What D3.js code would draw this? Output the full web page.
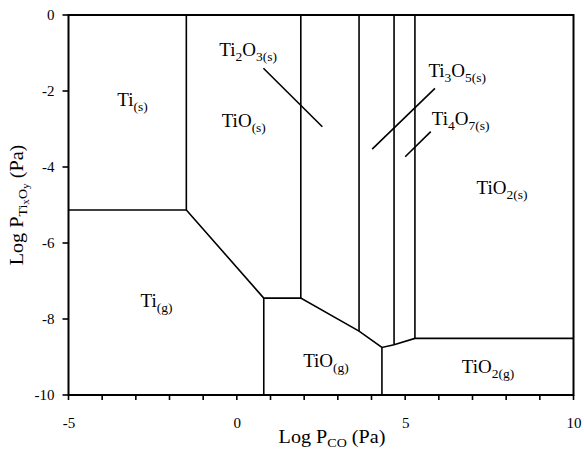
<!DOCTYPE html>
<html>
<head>
<meta charset="utf-8">
<script src="https://cdn.jsdelivr.net/npm/d3@7"></script>
<style>
  html, body { margin: 0; padding: 0; background: #fff; }
  svg { display: block; }
  text { font-family: "Liberation Serif", "Times New Roman", serif; fill: #000; }
</style>
</head>
<body>
<svg id="chart" width="584" height="452"></svg>
<script>
// ---- data (log10 P_CO [Pa], log10 P_TixOy [Pa]) ----
const xDomain = [-5, 10];
const yDomain = [-10, 0];
const xMajorTicks = [-5, 0, 5, 10];
const xMinorTicks = [-5, -4, -3, -2, -1, 0, 1, 2, 3, 4, 5, 6, 7, 8, 9, 10];
const yTicks = [0, -2, -4, -6, -8, -10];

// main lower phase boundary (solid/gas and gas/gas)
const tiSolidBottom = [[-5, -5.13], [-1.5, -5.13]];
const lowerBoundary = [[-1.5, 0], [-1.5, -5.13], [0.8, -7.45], [1.9, -7.45], [3.63, -8.32],
                       [4.31, -8.75], [4.67, -8.68], [5.29, -8.51], [10, -8.51]];
// vertical solid/solid boundaries: [x, yTop, yBottom]
const verticalBounds = [[0.8, -7.45, -10], [1.9, 0, -7.45], [3.63, 0, -8.32],
                        [4.31, -8.75, -10], [4.67, 0, -8.68], [5.29, 0, -8.51]];
// leader lines from labels to narrow fields
const leaders = [[[0.79, -1.40], [2.54, -2.94]],
                 [[5.885, -1.93], [4.02, -3.53]],
                 [[5.76, -3.07], [5.0, -3.73]]];
// region labels: anchor point and [text, isSubscript] parts
const labelPos = [[-3.55, -2.39], [-2.86, -7.68], [-0.52, -1.09], [-0.45, -2.94],
                  [5.69, -1.64], [5.79, -2.89], [7.12, -4.70], [1.97, -9.26], [6.68, -9.43]];
const labelParts = [
  [["Ti", 0], ["(s)", 1]],
  [["Ti", 0], ["(g)", 1]],
  [["Ti", 0], ["2", 1], ["O", 0], ["3(s)", 1]],
  [["TiO", 0], ["(s)", 1]],
  [["Ti", 0], ["3", 1], ["O", 0], ["5(s)", 1]],
  [["Ti", 0], ["4", 1], ["O", 0], ["7(s)", 1]],
  [["TiO", 0], ["2(s)", 1]],
  [["TiO", 0], ["(g)", 1]],
  [["TiO", 0], ["2(g)", 1]]
];

// ---- layout ----
const svg = d3.select("#chart");
const m = {left: 68.5, right: 573.5, top: 15, bottom: 395};
const x = d3.scaleLinear().domain(xDomain).range([m.left, m.right]);
const y = d3.scaleLinear().domain(yDomain).range([m.bottom, m.top]);
const line = d3.line().x(d => x(d[0])).y(d => y(d[1]));

const g = svg.append("g");

// phase boundaries
const lineStyle = sel => sel.attr("fill", "none").attr("stroke", "#000").attr("stroke-width", 1.6);
g.append("path").datum(tiSolidBottom).attr("d", line).call(lineStyle);
g.append("path").datum(lowerBoundary).attr("d", line).call(lineStyle).attr("stroke-linejoin", "miter");
g.selectAll("line.v").data(verticalBounds).join("line").attr("class", "v")
  .attr("x1", d => x(d[0])).attr("x2", d => x(d[0]))
  .attr("y1", d => y(d[1])).attr("y2", d => y(d[2])).call(lineStyle);
g.selectAll("path.leader").data(leaders).join("path").attr("class", "leader")
  .attr("d", line).call(lineStyle);

// frame
svg.append("rect").attr("x", m.left).attr("y", m.top)
  .attr("width", m.right - m.left).attr("height", m.bottom - m.top)
  .attr("fill", "none").attr("stroke", "#000").attr("stroke-width", 2);

// tick marks (drawn from the scales)
svg.append("g").selectAll("line").data(xMinorTicks).join("line")
  .attr("x1", d => x(d)).attr("x2", d => x(d))
  .attr("y1", m.bottom).attr("y2", m.bottom + 5)
  .attr("stroke", "#000").attr("stroke-width", 1.6);
svg.append("g").selectAll("line").data(yTicks).join("line")
  .attr("x1", m.left - 6).attr("x2", m.left)
  .attr("y1", d => y(d)).attr("y2", d => y(d))
  .attr("stroke", "#000").attr("stroke-width", 1.6);

// tick labels via d3 axes
const xAxis = svg.append("g").attr("transform", `translate(0,${m.bottom})`)
  .call(d3.axisBottom(x).tickValues(xMajorTicks).tickSize(5).tickPadding(17).tickFormat(d3.format("d")));
const yAxis = svg.append("g").attr("transform", `translate(${m.left},0)`)
  .call(d3.axisLeft(y).tickValues(yTicks).tickSize(6).tickPadding(8).tickFormat(d3.format("d")));
[xAxis, yAxis].forEach(a => {
  a.select(".domain").remove();
  a.selectAll(".tick line").remove();
  a.selectAll("text").style("font-family", "'Liberation Serif', serif").style("font-size", "15px").attr("fill", "#000");
});
yAxis.selectAll("text").text(d => d === 0 ? "0" : "-" + Math.abs(d));
xAxis.selectAll("text").text(d => d < 0 ? "-" + Math.abs(d) : d);

// region labels
labelParts.forEach((parts, i) => {
  const t = svg.append("text")
    .attr("x", x(labelPos[i][0])).attr("y", y(labelPos[i][1]))
    .style("font-size", "19px");
  let shifted = false;
  parts.forEach(([s, sub]) => {
    const ts = t.append("tspan").text(s);
    if (sub && !shifted) { ts.attr("dy", 5).style("font-size", "13.5px"); shifted = true; }
    else if (sub) { ts.style("font-size", "13.5px"); }
    else if (!sub && shifted) { ts.attr("dy", -5); shifted = false; }
  });
});

// axis titles
const xt = svg.append("text")
  .attr("transform", `translate(332,443) scale(1.12,1)`)
  .attr("text-anchor", "middle").style("font-size", "18px");
xt.append("tspan").text("Log P");
xt.append("tspan").text("CO").attr("dy", 4).style("font-size", "12.5px");
xt.append("tspan").text(" (Pa)").attr("dy", -4);

const yt = svg.append("text")
  .attr("transform", `translate(23,${(m.top + m.bottom) / 2}) rotate(-90) scale(1.12,1)`)
  .attr("text-anchor", "middle").style("font-size", "18px");
yt.append("tspan").text("Log P");
yt.append("tspan").text("Ti").attr("dy", 4).style("font-size", "12.5px");
yt.append("tspan").text("x").attr("dy", 2).style("font-size", "10px");
yt.append("tspan").text("O").attr("dy", -2).style("font-size", "12.5px");
yt.append("tspan").text("y").attr("dy", 2).style("font-size", "10px");
yt.append("tspan").text(" (Pa)").attr("dy", -6);
</script>
</body>
</html>
